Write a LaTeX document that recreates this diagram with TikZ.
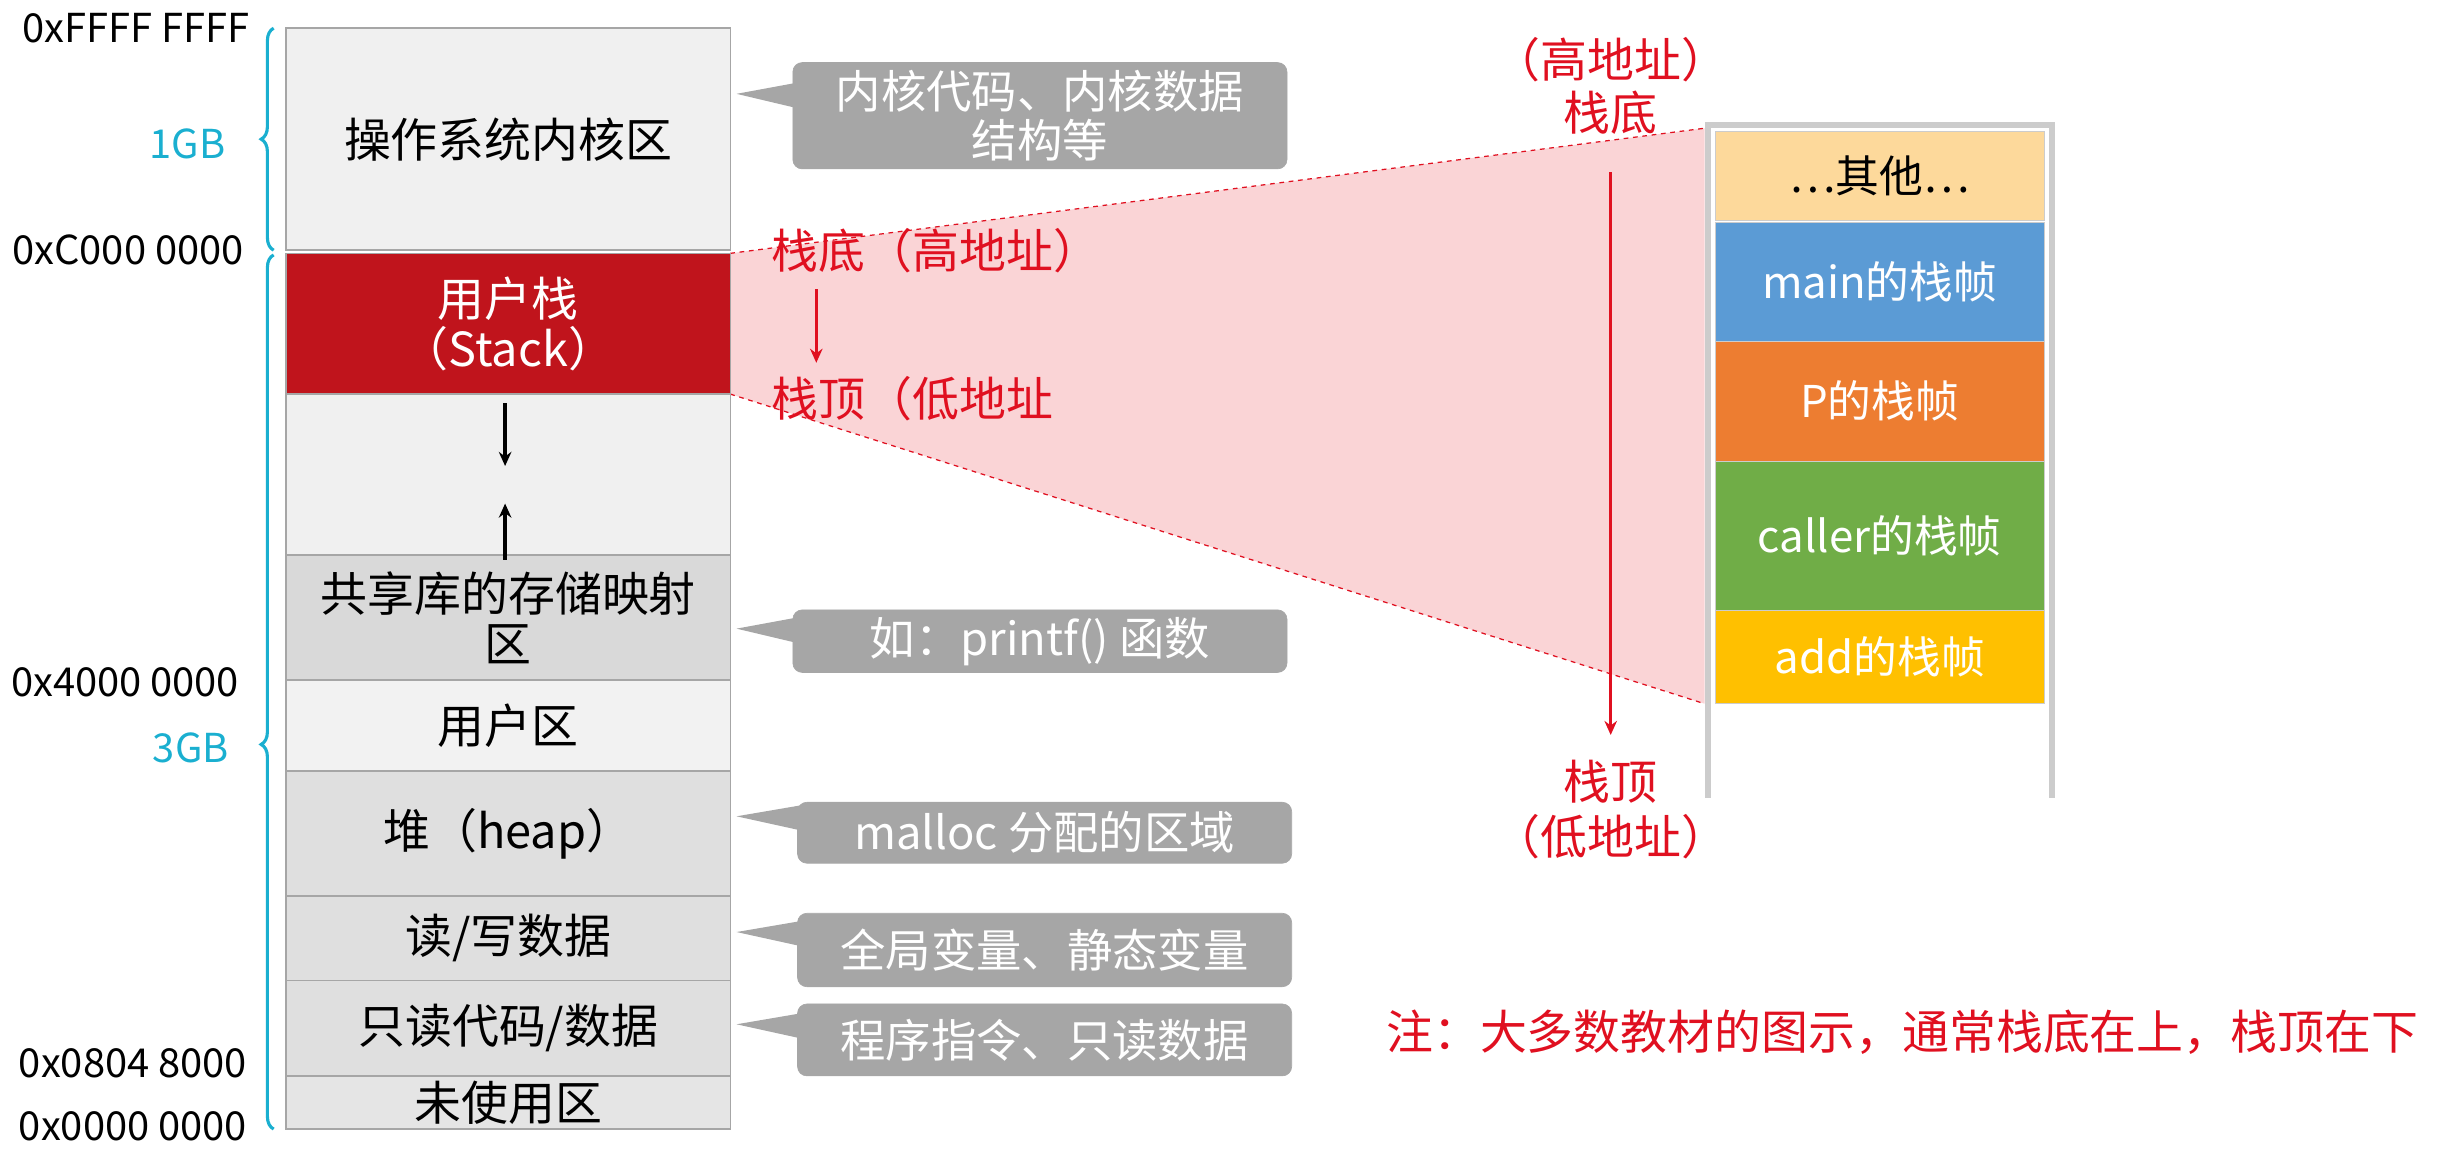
\documentclass[tikz,border=0pt]{standalone}
\usepackage{fontspec}
\setmainfont{Noto Sans CJK SC}
\usetikzlibrary{decorations.pathreplacing,arrows.meta}
\definecolor{cy}{HTML}{1AAFD0}
\definecolor{rd}{HTML}{E01020}
\definecolor{callg}{HTML}{A6A6A6}
\definecolor{stk}{HTML}{C0141C}
\definecolor{fo}{HTML}{FDD99B}
\definecolor{fb}{HTML}{5B9BD5}
\definecolor{fr}{HTML}{ED7D31}
\definecolor{fg}{HTML}{70AD47}
\definecolor{fy}{HTML}{FFC000}
\tikzset{
 mem/.style={draw=gray!70,line width=1pt,minimum width=284pt,inner sep=0pt,font=\fontsize{30}{32}\selectfont,align=center},
 addr/.style={font=\fontsize{25.5}{27}\selectfont,anchor=center},
 call/.style={fill=callg,draw=callg,rounded corners=6pt,text=white,font=\fontsize{29}{31}\selectfont,align=center,inner sep=0pt},
 frm/.style={minimum width=210pt,inner sep=0pt,text=white,font=\fontsize{28}{30}\selectfont,draw=gray!40},
 rt/.style={text=rd,font=\fontsize{30}{32}\selectfont}
}
\begin{document}
\begin{tikzpicture}[x=1pt,y=-1pt]
\useasboundingbox (0,0) rectangle (1568,740);
% pink trapezoid
\fill[rd!20,opacity=0.9] (467,162) -- (1090,82) -- (1090,450) -- (467,252) -- cycle;
\draw[rd,dashed,line width=0.8pt] (467,162) -- (1090,82) (467,252) -- (1090,450);
% memory regions
\node[mem,fill=gray!12,minimum height=142pt] (k) at (325,89) {操作系统内核区};
\node[mem,fill=stk,text=white,minimum height=90pt] (s) at (325,207) {用户栈\\（Stack）};
\node[mem,fill=gray!12,minimum height=103pt] (g) at (325,303.5) {};
\node[mem,fill=gray!10,minimum height=58pt] (u) at (325,464) {\raisebox{-14pt}{用户区}};
\node[mem,fill=gray!30,minimum height=80pt] (sh) at (325,395) {共享库的存储映射\\区};
\node[mem,fill=gray!25,minimum height=80pt] (h) at (325,533) {堆（heap）};
\node[mem,fill=gray!25,minimum height=54pt] (rw) at (325,600) {读/写数据};
\node[mem,fill=gray!25,minimum height=61pt] (ro) at (325,657.5) {只读代码/数据};
\node[mem,fill=gray!20,minimum height=34pt] (un) at (325,705) {未使用区};
\coordinate (a1) at (323,258); \coordinate (a2) at (323,298);
\coordinate (b1) at (323,358); \coordinate (b2) at (323,322);
\draw[-{Stealth[length=9pt,width=8pt]},line width=2.5pt] (a1) -- (a2);
\draw[-{Stealth[length=9pt,width=8pt]},line width=2.5pt] (b1) -- (b2);
% addresses
\node[addr] (x1) at (87,18) {0xFFFF FFFF};
\node[addr,text=cy] (x2) at (120,92) {1GB};
\node[addr] (x3) at (82,160) {0xC000 0000};
\node[addr] (x4) at (80,436) {0x4000 0000};
\node[addr,text=cy] (x5) at (122,478) {3GB};
\node[addr] (x6) at (85,680) {0x0804 8000};
\node[addr] (x7) at (85,720) {0x0000 0000};
\draw[cy,line width=2pt,decorate,decoration={brace,amplitude=8pt,mirror}] (175,18) -- (175,160);
\draw[cy,line width=2pt,decorate,decoration={brace,amplitude=8pt,mirror,aspect=0.56}] (175,163) -- (175,722);
% callouts
\foreach \n/\xa/\ya/\yb/\ty/\t in {c1/507/40/108/60/{内核代码、内核数据\\结构等},c2/507/390/430/402/{如：printf() 函数},c3/510/513/552/522/{malloc 分配的区域},c4/510/584/631/596/{全局变量、静态变量},c5/510/642/688/655/{程序指令、只读数据}}{
 \fill[callg] (\xa+2,\ty-7) -- (471,\ty) -- (\xa+2,\ty+9) -- cycle;
 \node[call,minimum width=316pt,minimum height=\yb-\ya] (\n) at (\xa+158,{(\ya+\yb)/2}) {\t};
}
% red stack labels
\node[rt,anchor=west] (sd) at (490,160) {栈底（高地址）};
\node[rt,anchor=west] (sp) at (490,255) {栈顶（低地址};
\coordinate (r1) at (522,185); \coordinate (r2) at (522,232);
\draw[rd,-{Stealth[length=9pt,width=8pt]},line width=2pt] (r1) -- (r2);
% right stack
\draw[gray!40,line width=4pt] (1092,510) -- (1092,80) -- (1312,80) -- (1312,510);
\node[frm,fill=fo,text=black,minimum height=57pt] (f0) at (1202,112.5) {…其他…};
\node[frm,fill=fb,minimum height=76pt] (f1) at (1202,180) {main的栈帧};
\node[frm,fill=fr,minimum height=77pt] (f2) at (1202,256.5) {P的栈帧};
\node[frm,fill=fg,minimum height=95pt] (f3) at (1202,342.5) {caller的栈帧};
\node[frm,fill=fy,minimum height=60pt] (f4) at (1202,420) {add的栈帧};
\node[rt] (t1) at (1030,38) {（高地址）};
\node[rt] (t2) at (1030,72) {栈底};
\node[rt] (t3) at (1030,500) {栈顶};
\node[rt] (t4) at (1030,535) {（低地址）};
\coordinate (q1) at (1030,110); \coordinate (q2) at (1030,470);
\draw[rd,-{Stealth[length=9pt,width=8pt]},line width=2pt] (q1) -- (q2);
\node[rt,anchor=east] (note) at (1550,660) {注：大多数教材的图示，通常栈底在上，栈顶在下};
\end{tikzpicture}
\end{document}
